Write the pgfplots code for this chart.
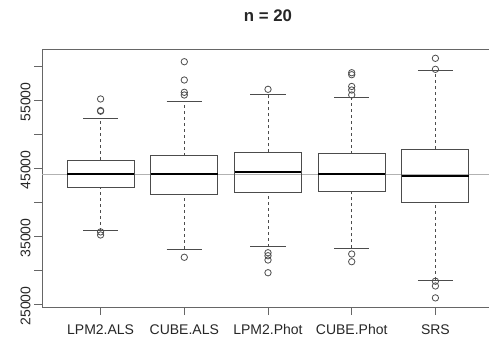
\documentclass[border=0pt]{standalone}
\usepackage{pgfplots}
\pgfplotsset{compat=1.18}
\usepackage{fontspec}
\setmainfont{Liberation Sans}

\begin{document}
\begin{tikzpicture}
\useasboundingbox (-42pt,-35pt) rectangle (447pt,307pt);
\clip (-42pt,-35pt) rectangle (447pt,307pt);
\begin{axis}[
  at={(0,0)}, anchor=south west,
  scale only axis, width=452pt, height=258pt,
  xmin=0.3, xmax=5.7, ymin=24559, ymax=62500,
  xtick={1,2,3,4,5},
  xticklabels={LPM2.ALS,CUBE.ALS,LPM2.Phot,CUBE.Phot,SRS},
  ytick={25000,30000,35000,40000,45000,50000,55000,60000},
  yticklabels={25000,,35000,,45000,,55000,},
  scaled y ticks=false,
  tick align=outside, major tick length=8pt,
  xtick pos=bottom, ytick pos=left,
  axis line style={black!60, line width=0.9pt},
  tick style={black!60, line width=0.9pt},
  tick label style={font=\fontsize{14}{16}\selectfont, text=black!85},
  xticklabel style={yshift=-6pt},
  yticklabel style={rotate=90, anchor=south, xshift=-2pt},
  title={n = 20},
  title style={font=\bfseries\fontsize{16.8}{20}\selectfont, text=black!85, at={(0.5,1)}, anchor=base, yshift=21pt},
  boxline/.style={black!70, line width=0.9pt},
  whisk/.style={black!70, line width=0.9pt, dash pattern=on 3pt off 3pt},
  med/.style={black, line width=2.2pt},
  out/.style={only marks, mark=o, mark size=3.2pt, mark options={solid, draw=black!70, line width=0.8pt}},
]
% reference line
\addplot[black!30, line width=0.8pt] coordinates {(0.3,44100) (5.7,44100)};

% ---- LPM2.ALS (x=1)
\addplot[whisk] coordinates {(1,46180) (1,52250)};
\addplot[whisk] coordinates {(1,35800) (1,42160)};
\addplot[boxline] coordinates {(0.79,52250) (1.21,52250)};
\addplot[boxline] coordinates {(0.79,35800) (1.21,35800)};
\addplot[boxline] coordinates {(0.6,42160) (1.4,42160) (1.4,46180) (0.6,46180)} -- cycle;
\addplot[med] coordinates {(0.6,44160) (1.4,44160)};
\addplot[out] coordinates {(1,55150) (1,53350) (1,53450) (1,35600) (1,35150)};

% ---- CUBE.ALS (x=2)
\addplot[whisk] coordinates {(2,46810) (2,54800)};
\addplot[whisk] coordinates {(2,33090) (2,41130)};
\addplot[boxline] coordinates {(1.79,54800) (2.21,54800)};
\addplot[boxline] coordinates {(1.79,33090) (2.21,33090)};
\addplot[boxline] coordinates {(1.6,41130) (2.4,41130) (2.4,46810) (1.6,46810)} -- cycle;
\addplot[med] coordinates {(1.6,44160) (2.4,44160)};
\addplot[out] coordinates {(2,60630) (2,57940) (2,56130) (2,55735) (2,31870)};

% ---- LPM2.Phot (x=3)
\addplot[whisk] coordinates {(3,47300) (3,55850)};
\addplot[whisk] coordinates {(3,33430) (3,41420)};
\addplot[boxline] coordinates {(2.79,55850) (3.21,55850)};
\addplot[boxline] coordinates {(2.79,33430) (3.21,33430)};
\addplot[boxline] coordinates {(2.6,41420) (3.4,41420) (3.4,47300) (2.6,47300)} -- cycle;
\addplot[med] coordinates {(2.6,44360) (3.4,44360)};
\addplot[out] coordinates {(3,56570) (3,32540) (3,32100) (3,31470) (3,29600)};

% ---- CUBE.Phot (x=4)
\addplot[whisk] coordinates {(4,47100) (4,55340)};
\addplot[whisk] coordinates {(4,33190) (4,41570)};
\addplot[boxline] coordinates {(3.79,55340) (4.21,55340)};
\addplot[boxline] coordinates {(3.79,33190) (4.21,33190)};
\addplot[boxline] coordinates {(3.6,41570) (4.4,41570) (4.4,47100) (3.6,47100)} -- cycle;
\addplot[med] coordinates {(3.6,44120) (4.4,44120)};
\addplot[out] coordinates {(4,59010) (4,58720) (4,56990) (4,56470) (4,55740) (4,32350) (4,31220)};

% ---- SRS (x=5)
\addplot[whisk] coordinates {(5,47800) (5,59360)};
\addplot[whisk] coordinates {(5,28530) (5,40000)};
\addplot[boxline] coordinates {(4.79,59360) (5.21,59360)};
\addplot[boxline] coordinates {(4.79,28530) (5.21,28530)};
\addplot[boxline] coordinates {(4.6,40000) (5.4,40000) (5.4,47800) (4.6,47800)} -- cycle;
\addplot[med] coordinates {(4.6,43870) (5.4,43870)};
\addplot[out] coordinates {(5,61130) (5,59510) (5,28350) (5,27650) (5,25900)};
\end{axis}
\end{tikzpicture}
\end{document}
